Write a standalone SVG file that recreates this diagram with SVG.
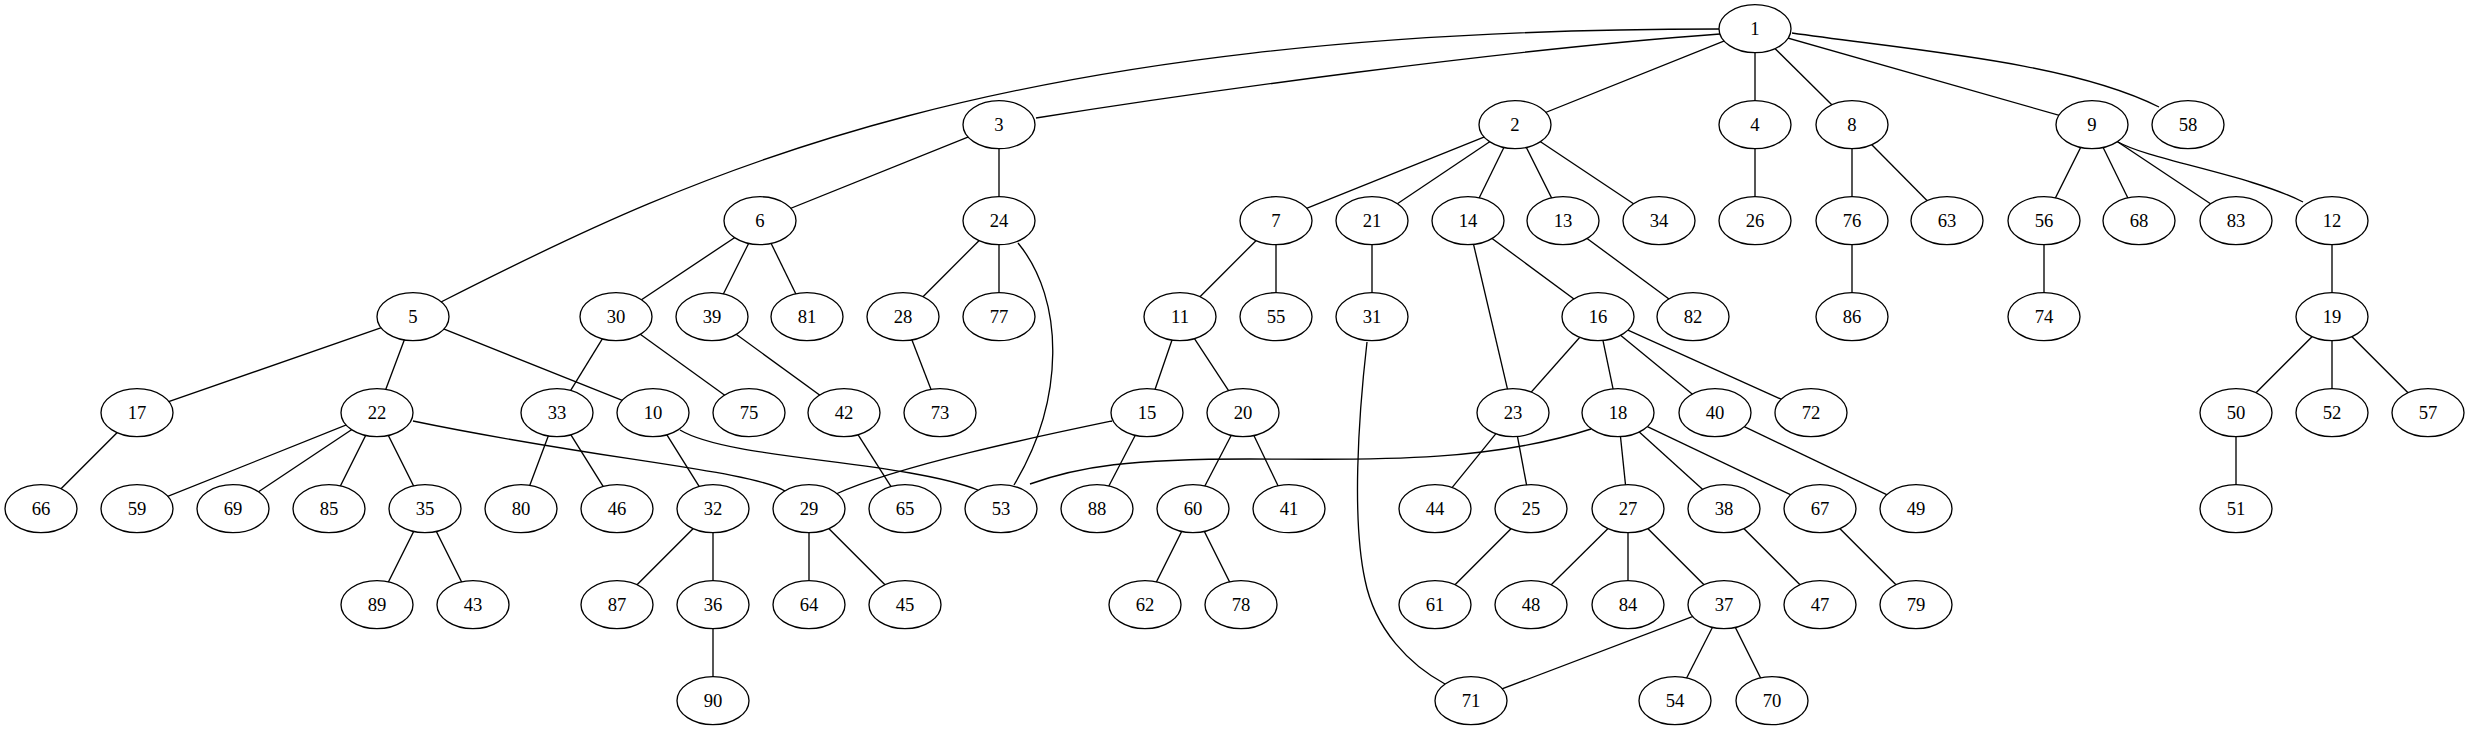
<svg xmlns="http://www.w3.org/2000/svg" width="2469" height="731" viewBox="0 0 2469 731">
<style>
.edge{fill:none;stroke:#000;stroke-width:1.33}
.node ellipse{fill:#fff;stroke:#000;stroke-width:1.33}
.node text{font-family:"Liberation Serif","Times New Roman",serif;font-size:18.67px;text-anchor:middle;fill:#000}
</style>
<rect width="2469" height="731" fill="#fff"/>
<g id="edges">
<path class="edge" d="M441,302 C700,170 1000,29 1719,29"/>
<path class="edge" d="M1036,118 C1200,92 1500,50 1720,34"/>
<path class="edge" d="M1515,124.7 L1755,28.7"/>
<path class="edge" d="M1755,28.7 L1755,124.7"/>
<path class="edge" d="M1755,28.7 L1852,124.7"/>
<path class="edge" d="M1755,28.7 L2092,124.7"/>
<path class="edge" d="M1792,33 C1910,50 2070,62 2159,107"/>
<path class="edge" d="M999,124.7 L760,220.7"/>
<path class="edge" d="M999,124.7 L999,220.7"/>
<path class="edge" d="M1515,124.7 L1276,220.7"/>
<path class="edge" d="M1515,124.7 L1372,220.7"/>
<path class="edge" d="M1515,124.7 L1468,220.7"/>
<path class="edge" d="M1515,124.7 L1563,220.7"/>
<path class="edge" d="M1515,124.7 L1659,220.7"/>
<path class="edge" d="M1852,124.7 L1852,220.7"/>
<path class="edge" d="M1852,124.7 L1947,220.7"/>
<path class="edge" d="M2092,124.7 L2044,220.7"/>
<path class="edge" d="M2092,124.7 L2139,220.7"/>
<path class="edge" d="M2092,124.7 L2236,220.7"/>
<path class="edge" d="M2118,142 C2150,160 2250,175 2303,202"/>
<path class="edge" d="M1755,124.7 L1755,220.7"/>
<path class="edge" d="M760,220.7 L616,316.7"/>
<path class="edge" d="M760,220.7 L712,316.7"/>
<path class="edge" d="M760,220.7 L807,316.7"/>
<path class="edge" d="M999,220.7 L903,316.7"/>
<path class="edge" d="M999,220.7 L999,316.7"/>
<path class="edge" d="M1018,243 C1065,300 1065,400 1014,485"/>
<path class="edge" d="M1276,220.7 L1180,316.7"/>
<path class="edge" d="M1276,220.7 L1276,316.7"/>
<path class="edge" d="M1372,220.7 L1372,316.7"/>
<path class="edge" d="M1468,220.7 L1598,316.7"/>
<path class="edge" d="M1468,220.7 L1513,412.7"/>
<path class="edge" d="M1563,220.7 L1693,316.7"/>
<path class="edge" d="M1852,220.7 L1852,316.7"/>
<path class="edge" d="M2044,220.7 L2044,316.7"/>
<path class="edge" d="M2332,220.7 L2332,316.7"/>
<path class="edge" d="M413,316.7 L137,412.7"/>
<path class="edge" d="M413,316.7 L377,412.7"/>
<path class="edge" d="M413,316.7 L653,412.7"/>
<path class="edge" d="M616,316.7 L557,412.7"/>
<path class="edge" d="M616,316.7 L749,412.7"/>
<path class="edge" d="M712,316.7 L844,412.7"/>
<path class="edge" d="M903,316.7 L940,412.7"/>
<path class="edge" d="M1180,316.7 L1147,412.7"/>
<path class="edge" d="M1180,316.7 L1243,412.7"/>
<path class="edge" d="M1367,342 C1358,420 1352,520 1365,580 C1375,630 1410,665 1445,684"/>
<path class="edge" d="M1598,316.7 L1513,412.7"/>
<path class="edge" d="M1598,316.7 L1618,412.7"/>
<path class="edge" d="M1598,316.7 L1715,412.7"/>
<path class="edge" d="M1598,316.7 L1811,412.7"/>
<path class="edge" d="M2332,316.7 L2236,412.7"/>
<path class="edge" d="M2332,316.7 L2332,412.7"/>
<path class="edge" d="M2332,316.7 L2428,412.7"/>
<path class="edge" d="M137,412.7 L41,508.7"/>
<path class="edge" d="M377,412.7 L137,508.7"/>
<path class="edge" d="M377,412.7 L233,508.7"/>
<path class="edge" d="M377,412.7 L329,508.7"/>
<path class="edge" d="M377,412.7 L425,508.7"/>
<path class="edge" d="M413,421 C600,460 750,470 785,491"/>
<path class="edge" d="M557,412.7 L521,508.7"/>
<path class="edge" d="M557,412.7 L617,508.7"/>
<path class="edge" d="M653,412.7 L713,508.7"/>
<path class="edge" d="M680,430 C730,460 900,460 978,490"/>
<path class="edge" d="M844,412.7 L905,508.7"/>
<path class="edge" d="M1112,421 C1040,436 900,465 836,494"/>
<path class="edge" d="M1147,412.7 L1097,508.7"/>
<path class="edge" d="M1243,412.7 L1193,508.7"/>
<path class="edge" d="M1243,412.7 L1289,508.7"/>
<path class="edge" d="M1513,412.7 L1435,508.7"/>
<path class="edge" d="M1513,412.7 L1531,508.7"/>
<path class="edge" d="M1591,429 C1480,465 1350,459 1250,459 C1130,459 1080,466 1030,484"/>
<path class="edge" d="M1618,412.7 L1628,508.7"/>
<path class="edge" d="M1618,412.7 L1724,508.7"/>
<path class="edge" d="M1618,412.7 L1820,508.7"/>
<path class="edge" d="M1715,412.7 L1916,508.7"/>
<path class="edge" d="M2236,412.7 L2236,508.7"/>
<path class="edge" d="M425,508.7 L377,604.7"/>
<path class="edge" d="M425,508.7 L473,604.7"/>
<path class="edge" d="M713,508.7 L617,604.7"/>
<path class="edge" d="M713,508.7 L713,604.7"/>
<path class="edge" d="M809,508.7 L809,604.7"/>
<path class="edge" d="M809,508.7 L905,604.7"/>
<path class="edge" d="M1193,508.7 L1145,604.7"/>
<path class="edge" d="M1193,508.7 L1241,604.7"/>
<path class="edge" d="M1531,508.7 L1435,604.7"/>
<path class="edge" d="M1628,508.7 L1531,604.7"/>
<path class="edge" d="M1628,508.7 L1628,604.7"/>
<path class="edge" d="M1628,508.7 L1724,604.7"/>
<path class="edge" d="M1724,508.7 L1820,604.7"/>
<path class="edge" d="M1820,508.7 L1916,604.7"/>
<path class="edge" d="M713,604.7 L713,700.7"/>
<path class="edge" d="M1724,604.7 L1471,700.7"/>
<path class="edge" d="M1724,604.7 L1675,700.7"/>
<path class="edge" d="M1724,604.7 L1772,700.7"/>
</g>
<g id="n1" class="node"><ellipse cx="1755" cy="28.7" rx="36" ry="24"/><text x="1755" y="35.2">1</text></g>
<g id="n3" class="node"><ellipse cx="999" cy="124.7" rx="36" ry="24"/><text x="999" y="131.2">3</text></g>
<g id="n2" class="node"><ellipse cx="1515" cy="124.7" rx="36" ry="24"/><text x="1515" y="131.2">2</text></g>
<g id="n4" class="node"><ellipse cx="1755" cy="124.7" rx="36" ry="24"/><text x="1755" y="131.2">4</text></g>
<g id="n8" class="node"><ellipse cx="1852" cy="124.7" rx="36" ry="24"/><text x="1852" y="131.2">8</text></g>
<g id="n9" class="node"><ellipse cx="2092" cy="124.7" rx="36" ry="24"/><text x="2092" y="131.2">9</text></g>
<g id="n58" class="node"><ellipse cx="2188" cy="124.7" rx="36" ry="24"/><text x="2188" y="131.2">58</text></g>
<g id="n6" class="node"><ellipse cx="760" cy="220.7" rx="36" ry="24"/><text x="760" y="227.2">6</text></g>
<g id="n24" class="node"><ellipse cx="999" cy="220.7" rx="36" ry="24"/><text x="999" y="227.2">24</text></g>
<g id="n7" class="node"><ellipse cx="1276" cy="220.7" rx="36" ry="24"/><text x="1276" y="227.2">7</text></g>
<g id="n21" class="node"><ellipse cx="1372" cy="220.7" rx="36" ry="24"/><text x="1372" y="227.2">21</text></g>
<g id="n14" class="node"><ellipse cx="1468" cy="220.7" rx="36" ry="24"/><text x="1468" y="227.2">14</text></g>
<g id="n13" class="node"><ellipse cx="1563" cy="220.7" rx="36" ry="24"/><text x="1563" y="227.2">13</text></g>
<g id="n34" class="node"><ellipse cx="1659" cy="220.7" rx="36" ry="24"/><text x="1659" y="227.2">34</text></g>
<g id="n26" class="node"><ellipse cx="1755" cy="220.7" rx="36" ry="24"/><text x="1755" y="227.2">26</text></g>
<g id="n76" class="node"><ellipse cx="1852" cy="220.7" rx="36" ry="24"/><text x="1852" y="227.2">76</text></g>
<g id="n63" class="node"><ellipse cx="1947" cy="220.7" rx="36" ry="24"/><text x="1947" y="227.2">63</text></g>
<g id="n56" class="node"><ellipse cx="2044" cy="220.7" rx="36" ry="24"/><text x="2044" y="227.2">56</text></g>
<g id="n68" class="node"><ellipse cx="2139" cy="220.7" rx="36" ry="24"/><text x="2139" y="227.2">68</text></g>
<g id="n83" class="node"><ellipse cx="2236" cy="220.7" rx="36" ry="24"/><text x="2236" y="227.2">83</text></g>
<g id="n12" class="node"><ellipse cx="2332" cy="220.7" rx="36" ry="24"/><text x="2332" y="227.2">12</text></g>
<g id="n5" class="node"><ellipse cx="413" cy="316.7" rx="36" ry="24"/><text x="413" y="323.2">5</text></g>
<g id="n30" class="node"><ellipse cx="616" cy="316.7" rx="36" ry="24"/><text x="616" y="323.2">30</text></g>
<g id="n39" class="node"><ellipse cx="712" cy="316.7" rx="36" ry="24"/><text x="712" y="323.2">39</text></g>
<g id="n81" class="node"><ellipse cx="807" cy="316.7" rx="36" ry="24"/><text x="807" y="323.2">81</text></g>
<g id="n28" class="node"><ellipse cx="903" cy="316.7" rx="36" ry="24"/><text x="903" y="323.2">28</text></g>
<g id="n77" class="node"><ellipse cx="999" cy="316.7" rx="36" ry="24"/><text x="999" y="323.2">77</text></g>
<g id="n11" class="node"><ellipse cx="1180" cy="316.7" rx="36" ry="24"/><text x="1180" y="323.2">11</text></g>
<g id="n55" class="node"><ellipse cx="1276" cy="316.7" rx="36" ry="24"/><text x="1276" y="323.2">55</text></g>
<g id="n31" class="node"><ellipse cx="1372" cy="316.7" rx="36" ry="24"/><text x="1372" y="323.2">31</text></g>
<g id="n16" class="node"><ellipse cx="1598" cy="316.7" rx="36" ry="24"/><text x="1598" y="323.2">16</text></g>
<g id="n82" class="node"><ellipse cx="1693" cy="316.7" rx="36" ry="24"/><text x="1693" y="323.2">82</text></g>
<g id="n86" class="node"><ellipse cx="1852" cy="316.7" rx="36" ry="24"/><text x="1852" y="323.2">86</text></g>
<g id="n74" class="node"><ellipse cx="2044" cy="316.7" rx="36" ry="24"/><text x="2044" y="323.2">74</text></g>
<g id="n19" class="node"><ellipse cx="2332" cy="316.7" rx="36" ry="24"/><text x="2332" y="323.2">19</text></g>
<g id="n17" class="node"><ellipse cx="137" cy="412.7" rx="36" ry="24"/><text x="137" y="419.2">17</text></g>
<g id="n22" class="node"><ellipse cx="377" cy="412.7" rx="36" ry="24"/><text x="377" y="419.2">22</text></g>
<g id="n33" class="node"><ellipse cx="557" cy="412.7" rx="36" ry="24"/><text x="557" y="419.2">33</text></g>
<g id="n10" class="node"><ellipse cx="653" cy="412.7" rx="36" ry="24"/><text x="653" y="419.2">10</text></g>
<g id="n75" class="node"><ellipse cx="749" cy="412.7" rx="36" ry="24"/><text x="749" y="419.2">75</text></g>
<g id="n42" class="node"><ellipse cx="844" cy="412.7" rx="36" ry="24"/><text x="844" y="419.2">42</text></g>
<g id="n73" class="node"><ellipse cx="940" cy="412.7" rx="36" ry="24"/><text x="940" y="419.2">73</text></g>
<g id="n15" class="node"><ellipse cx="1147" cy="412.7" rx="36" ry="24"/><text x="1147" y="419.2">15</text></g>
<g id="n20" class="node"><ellipse cx="1243" cy="412.7" rx="36" ry="24"/><text x="1243" y="419.2">20</text></g>
<g id="n23" class="node"><ellipse cx="1513" cy="412.7" rx="36" ry="24"/><text x="1513" y="419.2">23</text></g>
<g id="n18" class="node"><ellipse cx="1618" cy="412.7" rx="36" ry="24"/><text x="1618" y="419.2">18</text></g>
<g id="n40" class="node"><ellipse cx="1715" cy="412.7" rx="36" ry="24"/><text x="1715" y="419.2">40</text></g>
<g id="n72" class="node"><ellipse cx="1811" cy="412.7" rx="36" ry="24"/><text x="1811" y="419.2">72</text></g>
<g id="n50" class="node"><ellipse cx="2236" cy="412.7" rx="36" ry="24"/><text x="2236" y="419.2">50</text></g>
<g id="n52" class="node"><ellipse cx="2332" cy="412.7" rx="36" ry="24"/><text x="2332" y="419.2">52</text></g>
<g id="n57" class="node"><ellipse cx="2428" cy="412.7" rx="36" ry="24"/><text x="2428" y="419.2">57</text></g>
<g id="n66" class="node"><ellipse cx="41" cy="508.7" rx="36" ry="24"/><text x="41" y="515.2">66</text></g>
<g id="n59" class="node"><ellipse cx="137" cy="508.7" rx="36" ry="24"/><text x="137" y="515.2">59</text></g>
<g id="n69" class="node"><ellipse cx="233" cy="508.7" rx="36" ry="24"/><text x="233" y="515.2">69</text></g>
<g id="n85" class="node"><ellipse cx="329" cy="508.7" rx="36" ry="24"/><text x="329" y="515.2">85</text></g>
<g id="n35" class="node"><ellipse cx="425" cy="508.7" rx="36" ry="24"/><text x="425" y="515.2">35</text></g>
<g id="n80" class="node"><ellipse cx="521" cy="508.7" rx="36" ry="24"/><text x="521" y="515.2">80</text></g>
<g id="n46" class="node"><ellipse cx="617" cy="508.7" rx="36" ry="24"/><text x="617" y="515.2">46</text></g>
<g id="n32" class="node"><ellipse cx="713" cy="508.7" rx="36" ry="24"/><text x="713" y="515.2">32</text></g>
<g id="n29" class="node"><ellipse cx="809" cy="508.7" rx="36" ry="24"/><text x="809" y="515.2">29</text></g>
<g id="n65" class="node"><ellipse cx="905" cy="508.7" rx="36" ry="24"/><text x="905" y="515.2">65</text></g>
<g id="n53" class="node"><ellipse cx="1001" cy="508.7" rx="36" ry="24"/><text x="1001" y="515.2">53</text></g>
<g id="n88" class="node"><ellipse cx="1097" cy="508.7" rx="36" ry="24"/><text x="1097" y="515.2">88</text></g>
<g id="n60" class="node"><ellipse cx="1193" cy="508.7" rx="36" ry="24"/><text x="1193" y="515.2">60</text></g>
<g id="n41" class="node"><ellipse cx="1289" cy="508.7" rx="36" ry="24"/><text x="1289" y="515.2">41</text></g>
<g id="n44" class="node"><ellipse cx="1435" cy="508.7" rx="36" ry="24"/><text x="1435" y="515.2">44</text></g>
<g id="n25" class="node"><ellipse cx="1531" cy="508.7" rx="36" ry="24"/><text x="1531" y="515.2">25</text></g>
<g id="n27" class="node"><ellipse cx="1628" cy="508.7" rx="36" ry="24"/><text x="1628" y="515.2">27</text></g>
<g id="n38" class="node"><ellipse cx="1724" cy="508.7" rx="36" ry="24"/><text x="1724" y="515.2">38</text></g>
<g id="n67" class="node"><ellipse cx="1820" cy="508.7" rx="36" ry="24"/><text x="1820" y="515.2">67</text></g>
<g id="n49" class="node"><ellipse cx="1916" cy="508.7" rx="36" ry="24"/><text x="1916" y="515.2">49</text></g>
<g id="n51" class="node"><ellipse cx="2236" cy="508.7" rx="36" ry="24"/><text x="2236" y="515.2">51</text></g>
<g id="n89" class="node"><ellipse cx="377" cy="604.7" rx="36" ry="24"/><text x="377" y="611.2">89</text></g>
<g id="n43" class="node"><ellipse cx="473" cy="604.7" rx="36" ry="24"/><text x="473" y="611.2">43</text></g>
<g id="n87" class="node"><ellipse cx="617" cy="604.7" rx="36" ry="24"/><text x="617" y="611.2">87</text></g>
<g id="n36" class="node"><ellipse cx="713" cy="604.7" rx="36" ry="24"/><text x="713" y="611.2">36</text></g>
<g id="n64" class="node"><ellipse cx="809" cy="604.7" rx="36" ry="24"/><text x="809" y="611.2">64</text></g>
<g id="n45" class="node"><ellipse cx="905" cy="604.7" rx="36" ry="24"/><text x="905" y="611.2">45</text></g>
<g id="n62" class="node"><ellipse cx="1145" cy="604.7" rx="36" ry="24"/><text x="1145" y="611.2">62</text></g>
<g id="n78" class="node"><ellipse cx="1241" cy="604.7" rx="36" ry="24"/><text x="1241" y="611.2">78</text></g>
<g id="n61" class="node"><ellipse cx="1435" cy="604.7" rx="36" ry="24"/><text x="1435" y="611.2">61</text></g>
<g id="n48" class="node"><ellipse cx="1531" cy="604.7" rx="36" ry="24"/><text x="1531" y="611.2">48</text></g>
<g id="n84" class="node"><ellipse cx="1628" cy="604.7" rx="36" ry="24"/><text x="1628" y="611.2">84</text></g>
<g id="n37" class="node"><ellipse cx="1724" cy="604.7" rx="36" ry="24"/><text x="1724" y="611.2">37</text></g>
<g id="n47" class="node"><ellipse cx="1820" cy="604.7" rx="36" ry="24"/><text x="1820" y="611.2">47</text></g>
<g id="n79" class="node"><ellipse cx="1916" cy="604.7" rx="36" ry="24"/><text x="1916" y="611.2">79</text></g>
<g id="n90" class="node"><ellipse cx="713" cy="700.7" rx="36" ry="24"/><text x="713" y="707.2">90</text></g>
<g id="n71" class="node"><ellipse cx="1471" cy="700.7" rx="36" ry="24"/><text x="1471" y="707.2">71</text></g>
<g id="n54" class="node"><ellipse cx="1675" cy="700.7" rx="36" ry="24"/><text x="1675" y="707.2">54</text></g>
<g id="n70" class="node"><ellipse cx="1772" cy="700.7" rx="36" ry="24"/><text x="1772" y="707.2">70</text></g>
</svg>
